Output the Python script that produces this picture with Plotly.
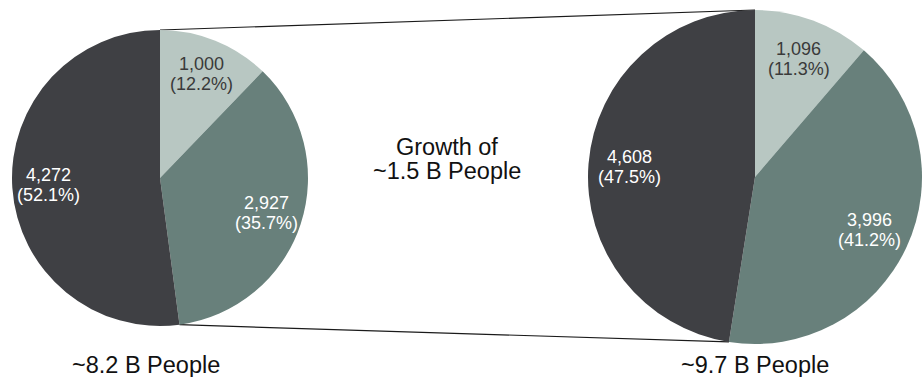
import math
import plotly.graph_objects as go

# ---------------- data ----------------
categories = ["Segment A", "Segment B", "Segment C"]
values_now = [1000, 2927, 4272]
values_future = [1096, 3996, 4608]
pct_now = ["12.2%", "35.7%", "52.1%"]
pct_future = ["11.3%", "41.2%", "47.5%"]
title_now = "~8.2 B People"
title_future = "~9.7 B People"
growth_lines = ["Growth of", "~1.5 B People"]

# ---------------- style / layout ----------------
W, H = 924, 377
colors = ["#b8c7c2", "#68807b", "#3f4044"]
text_colors = ["#3a3a3a", "#ffffff", "#ffffff"]
FONT = "Liberation Sans, Arial, sans-serif"
LABEL_SIZE = 18
LABEL_R = 0.755

# pie geometry in pixels (center x, center y from top, radius)
pies = [
    dict(cx=160, cy=178, r=148, values=values_now, pct=pct_now,
         title=title_now, title_x=146),
    dict(cx=755, cy=177, r=167, values=values_future, pct=pct_future,
         title=title_future, title_x=755),
]


def px(x):
    return x / W


def py(y):
    return (H - y) / H


fig = go.Figure()
annotations = []
shapes = []
edge_pts = []

for p in pies:
    fig.add_trace(go.Pie(
        labels=categories,
        values=p["values"],
        sort=False,
        direction="clockwise",
        rotation=0,
        marker=dict(colors=colors, line=dict(width=0)),
        textinfo="none",
        hoverinfo="skip",
        showlegend=False,
        domain=dict(x=[px(p["cx"] - p["r"]), px(p["cx"] + p["r"])],
                    y=[py(p["cy"] + p["r"]), py(p["cy"] - p["r"])]),
    ))
    total = sum(p["values"])
    cum = 0
    for i, v in enumerate(p["values"]):
        mid = (cum + v / 2) / total * 2 * math.pi
        lx = p["cx"] + LABEL_R * p["r"] * math.sin(mid)
        ly = p["cy"] - LABEL_R * p["r"] * math.cos(mid)
        annotations.append(dict(x=px(lx), y=py(ly), xref="paper", yref="paper",
                                text=f"{v:,}", showarrow=False, yshift=10,
                                xanchor="center", yanchor="middle",
                                font=dict(family=FONT, size=LABEL_SIZE, color=text_colors[i])))
        annotations.append(dict(x=px(lx), y=py(ly), xref="paper", yref="paper",
                                text=f"({p['pct'][i]})", showarrow=False, yshift=-10,
                                xanchor="center", yanchor="middle",
                                font=dict(family=FONT, size=LABEL_SIZE, color=text_colors[i])))
        cum += v
    # top point (start of first slice) and boundary between 2nd and 3rd slice
    top = (p["cx"], p["cy"] - p["r"])
    frac = sum(p["values"][:2]) / total * 2 * math.pi
    bottom = (p["cx"] + p["r"] * math.sin(frac), p["cy"] - p["r"] * math.cos(frac))
    edge_pts.append((top, bottom))
    annotations.append(dict(x=px(p["title_x"]), y=py(364.5), xref="paper", yref="paper",
                            text=p["title"], showarrow=False,
                            xanchor="center", yanchor="middle",
                            font=dict(family=FONT, size=23.5, color="#111111")))

(l_top, l_bot), (r_top, r_bot) = edge_pts
for a, b in [(l_top, r_top), (l_bot, r_bot)]:
    shapes.append(dict(type="line", xref="paper", yref="paper",
                       x0=px(a[0]), y0=py(a[1]), x1=px(b[0]), y1=py(b[1]),
                       line=dict(color="#1a1a1a", width=1.2), layer="below"))

for j, (txt, yy) in enumerate(zip(growth_lines, [146.5, 170.5])):
    annotations.append(dict(x=px(447), y=py(yy), xref="paper", yref="paper",
                            text=txt, showarrow=False,
                            xanchor="center", yanchor="middle",
                            font=dict(family=FONT, size=23.5, color="#111111")))

fig.update_layout(
    width=W, height=H,
    margin=dict(l=0, r=0, t=0, b=0),
    paper_bgcolor="white",
    plot_bgcolor="white",
    annotations=annotations,
    shapes=shapes,
    showlegend=False,
)

fig.write_html("out.html")
